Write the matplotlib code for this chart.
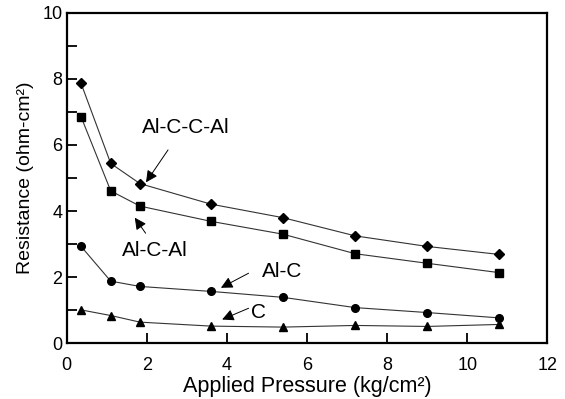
import matplotlib
matplotlib.use("Agg")
import matplotlib.pyplot as plt

plt.rcParams["font.family"] = ["Liberation Sans", "DejaVu Sans"]

pressure = [0.36, 1.1, 1.83, 3.6, 5.4, 7.2, 9.0, 10.78]
al_c_c_al = [7.86, 5.44, 4.83, 4.21, 3.80, 3.25, 2.93, 2.69]
al_c_al = [6.85, 4.61, 4.15, 3.69, 3.30, 2.71, 2.42, 2.14]
al_c = [2.93, 1.88, 1.72, 1.57, 1.39, 1.08, 0.93, 0.77]
c_only = [1.01, 0.84, 0.64, 0.52, 0.49, 0.54, 0.51, 0.57]

series = [
    (al_c_c_al, "D", 5),
    (al_c_al, "s", 5.5),
    (al_c, "o", 5.5),
    (c_only, "^", 6),
]

# label text, text position, arrow tail, arrow tip
labels = [
    ("Al-C-C-Al", (2.98, 6.54), (2.53, 5.85), (1.98, 4.87)),
    ("Al-C-Al", (2.21, 2.82), (1.97, 3.33), (1.70, 3.80)),
    ("Al-C", (5.37, 2.17), (4.54, 2.12), (3.85, 1.68)),
    ("C", (4.79, 0.93), (4.54, 1.06), (3.88, 0.72)),
]

fig = plt.figure(figsize=(5.65, 3.99), dpi=100)
ax = fig.add_axes([0.118, 0.1396, 0.851, 0.8285])

for ys, marker, ms in series:
    ax.plot(pressure, ys, color="#333333", linewidth=0.8,
            marker=marker, markersize=ms, markerfacecolor="black",
            markeredgecolor="black")

for text, pos, tail, tip in labels:
    ax.text(pos[0], pos[1], text, fontsize=15, ha="center", va="center")
    ax.annotate("", xy=tip, xytext=tail,
                arrowprops=dict(arrowstyle="-|>,head_length=0.7,head_width=0.35",
                                color="black", linewidth=0.7,
                                shrinkA=0, shrinkB=0))

ax.set_xlim(0, 12)
ax.set_ylim(0, 10)
ax.set_xticks([0, 2, 4, 6, 8, 10, 12])
ax.set_yticks([0, 2, 4, 6, 8, 10])
ax.set_yticks([1, 3, 5, 7, 9], minor=True)
ax.tick_params(axis="both", which="both", direction="in", length=7,
               width=1.3, labelsize=13, top=False, right=False)
ax.tick_params(axis="x", pad=10)
ax.tick_params(axis="y", pad=3)
for sp in ax.spines.values():
    sp.set_linewidth(1.6)

ax.set_xlabel("Applied Pressure (kg/cm²)", fontsize=15.5, labelpad=1)
ax.set_ylabel("Resistance (ohm-cm²)", fontsize=14, labelpad=6)

fig.savefig("out.png", dpi=100)
